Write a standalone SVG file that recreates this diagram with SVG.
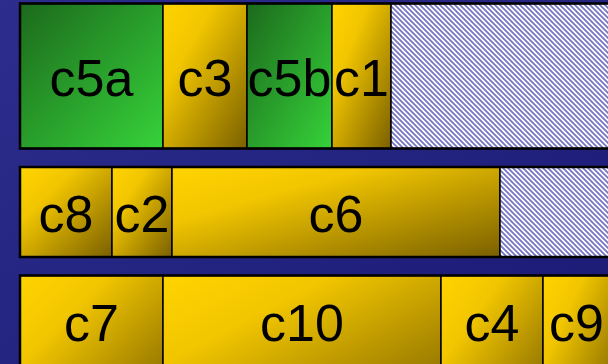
<svg xmlns="http://www.w3.org/2000/svg" width="608" height="364" viewBox="0 0 608 364">
<defs>
<linearGradient id="bg" x1="0" y1="0" x2="1" y2="1">
<stop offset="0" stop-color="#2d2d8e"/>
<stop offset="1" stop-color="#1a1a74"/>
</linearGradient>
<linearGradient id="yel" x1="0" y1="0" x2="1" y2="1">
<stop offset="0" stop-color="#ffd400"/>
<stop offset="0.3" stop-color="#f2c600"/>
<stop offset="1" stop-color="#7a6000"/>
</linearGradient>
<linearGradient id="grn" x1="0" y1="0" x2="1" y2="1">
<stop offset="0" stop-color="#1c6a1c"/>
<stop offset="1" stop-color="#36d23a"/>
</linearGradient>
<pattern id="hatch" patternUnits="userSpaceOnUse" width="5" height="5">
<rect width="5" height="5" fill="#ffffff"/>
<path d="M-1,-1 L6,6 M-1,4 L1,6 M4,-1 L6,1" stroke="#7676c4" stroke-width="1.8"/>
</pattern>
<style>
.y{fill:url(#yel);stroke:#000;stroke-width:1.5}
.g{fill:url(#grn);stroke:#000;stroke-width:1.5}
.h{fill:url(#hatch);stroke:#000;stroke-width:1.5}
.row{fill:none;stroke:#000;stroke-width:2.5}
text{font-family:"Liberation Sans",Arial,sans-serif;font-size:52px;fill:#000;text-anchor:middle}
</style>
</defs>
<rect width="608" height="364" fill="url(#bg)"/>
<g id="row1">
<g id="c5a"><rect class="g" x="20" y="3.5" width="143" height="145"/><text x="91.5" y="96">c5a</text></g>
<g id="c3"><rect class="y" x="163" y="3.5" width="84" height="145"/><text x="205" y="96">c3</text></g>
<g id="c5b"><rect class="g" x="247" y="3.5" width="85" height="145"/><text x="289.5" y="96">c5b</text></g>
<g id="c1"><rect class="y" x="332" y="3.5" width="59" height="145"/><text x="361.5" y="96">c1</text></g>
<g id="free1"><rect class="h" x="391" y="3.5" width="230" height="145"/></g>
<rect class="row" x="20" y="3.5" width="600" height="145"/>
</g>
<g id="row2">
<g id="c8"><rect class="y" x="20" y="167" width="92" height="90"/><text x="66" y="232">c8</text></g>
<g id="c2"><rect class="y" x="112" y="167" width="60" height="90"/><text x="142" y="232">c2</text></g>
<g id="c6"><rect class="y" x="172" y="167" width="328" height="90"/><text x="336" y="232">c6</text></g>
<g id="free2"><rect class="h" x="500" y="167" width="120" height="90"/></g>
<rect class="row" x="20" y="167" width="600" height="90"/>
</g>
<g id="row3">
<g id="c7"><rect class="y" x="20" y="275.5" width="143" height="145"/><text x="91.5" y="341">c7</text></g>
<g id="c10"><rect class="y" x="163" y="275.5" width="278" height="145"/><text x="302" y="341">c10</text></g>
<g id="c4"><rect class="y" x="441" y="275.5" width="102" height="145"/><text x="492" y="341">c4</text></g>
<g id="c9"><rect class="y" x="543" y="275.5" width="67" height="145"/><text x="576.5" y="341">c9</text></g>
<rect class="row" x="20" y="275.5" width="600" height="145"/>
</g>
<g id="connectors"/>
</svg>
